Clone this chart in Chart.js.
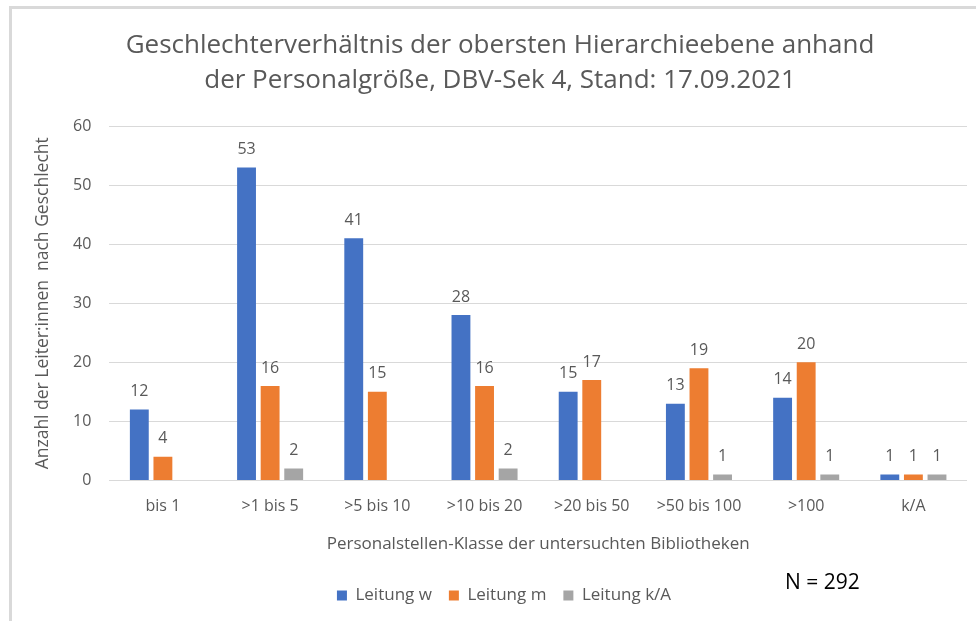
<!DOCTYPE html>
<html>
<head>
<meta charset="utf-8">
<script src="https://cdn.jsdelivr.net/npm/chart.js@4.4.0/dist/chart.umd.min.js"></script>
<style>
  html, body { margin: 0; padding: 0; background: #fff; }
  #wrap { position: relative; width: 976px; height: 621px; overflow: hidden; }
  #frame { position: absolute; left: 9px; top: 6px; right: 0; bottom: 0;
           border-left: 3px solid #d9d9d9; border-top: 3px solid #d9d9d9; }
  #n { position: absolute; left: 785px; top: 567px; font: 21px "Open Sans", sans-serif; color: #000; }
  canvas { position: absolute; left: 0; top: 0; }
</style>
</head>
<body>
<div id="wrap">
  <div id="frame"></div>
  <canvas id="grafico" width="976" height="621"></canvas>
  <div id="n">N = 292</div>
</div>
<script>
// --- Daten ---
const klassen = ['bis 1', '>1 bis 5', '>5 bis 10', '>10 bis 20', '>20 bis 50', '>50 bis 100', '>100', 'k/A'];
const leitungW = [12, 53, 41, 28, 15, 13, 14, 1];
const leitungM = [4, 16, 15, 16, 17, 19, 20, 1];
const leitungKA = [null, 2, null, 2, null, 1, 1, 1];
const yTicks = [0, 10, 20, 30, 40, 50, 60];

const grau = '#595959';
const schrift = '"Open Sans", sans-serif';

// Werte über den Balken
const wertePlugin = {
  id: 'werte',
  afterDatasetsDraw(chart) {
    const ctx = chart.ctx;
    ctx.save();
    ctx.font = '16px ' + schrift;
    ctx.fillStyle = grau;
    ctx.textAlign = 'center';
    ctx.textBaseline = 'bottom';
    chart.data.datasets.forEach((ds, i) => {
      chart.getDatasetMeta(i).data.forEach((bar, j) => {
        if (ds.data[j] == null) return;
        ctx.fillText(ds.data[j], bar.x, bar.y - 10);
      });
    });
    ctx.restore();
  }
};

// Legende etwas nach rechts wie im Original
const legendeVersatz = {
  id: 'legendeVersatz',
  afterLayout(chart) {
    chart.legend.left += 4;
    chart.legend.right += 4;
  }
};

new Chart(document.getElementById('grafico'), {
  type: 'bar',
  data: {
    labels: klassen,
    datasets: [
      { label: 'Leitung w', data: leitungW, backgroundColor: '#4472c4' },
      { label: 'Leitung m', data: leitungM, backgroundColor: '#ed7d31' },
      { label: 'Leitung k/A', data: leitungKA, backgroundColor: '#a5a5a5' }
    ]
  },
  options: {
    responsive: false,
    animation: false,
    devicePixelRatio: 1,
    datasets: { bar: { categoryPercentage: 0.66, barPercentage: 0.8 } },
    layout: { padding: { left: 33, right: 9, top: 8, bottom: 7 } },
    plugins: {
      title: {
        display: true,
        text: ['Geschlechterverhältnis der obersten Hierarchieebene anhand',
               'der Personalgröße, DBV-Sek 4, Stand: 17.09.2021'],
        color: grau,
        font: { family: schrift, size: 26, weight: 'normal', lineHeight: 1.35 },
        padding: { top: 20, bottom: 28 }
      },
      legend: {
        position: 'bottom',
        labels: {
          color: grau,
          font: { family: schrift, size: 17 },
          boxWidth: 10,
          boxHeight: 10,
          padding: 17
        }
      },
      tooltip: { enabled: false }
    },
    scales: {
      x: {
        grid: { display: false },
        border: { display: false },
        ticks: { color: grau, font: { family: schrift, size: 16 }, padding: 8 },
        title: {
          display: true,
          text: 'Personalstellen-Klasse der untersuchten Bibliotheken',
          color: grau,
          font: { family: schrift, size: 17 },
          padding: { top: 10, bottom: 16 }
        }
      },
      y: {
        min: 0,
        max: 60,
        afterBuildTicks(axis) { axis.ticks = yTicks.map(v => ({ value: v })); },
        grid: { color: '#d9d9d9', drawTicks: false },
        border: { display: false },
        ticks: { color: grau, font: { family: schrift, size: 16 }, padding: 18 },
        title: {
          display: true,
          text: 'Anzahl der Leiter:innen  nach Geschlecht',
          color: grau,
          font: { family: schrift, size: 17.5 },
          padding: { top: 0, bottom: 1 }
        }
      }
    }
  },
  plugins: [wertePlugin, legendeVersatz]
});
</script>
</body>
</html>
